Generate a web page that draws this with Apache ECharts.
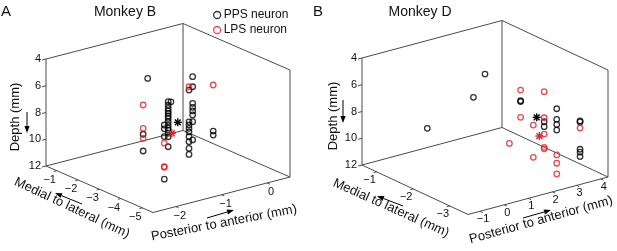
<!DOCTYPE html>
<html>
<head>
<meta charset="utf-8">
<script src="https://cdn.jsdelivr.net/npm/echarts@6/dist/echarts.min.js"></script>
<style>
  html, body { margin: 0; padding: 0; background: #fff; }
  #chart { width: 617px; height: 251px; }
</style>
</head>
<body>
<div id="chart"></div>
<script>
// recording sites: [posterior->anterior, medial->lateral, depth] (mm)
var ppsMonkeyB = [
  [-1.31, -2.5, 9.29], [-1.31, -2.5, 10.54], [-1.21, -2.5, 5.20],
  [-1.55, -4, 11.39], [-1.55, -4, 7.34], [-1.55, -4, 7.63], [-1.55, -4, 8.21],
  [-1.23, -3.5, 6.23], [-1.23, -3.5, 6.48], [-1.23, -3.5, 6.73], [-1.23, -3.5, 6.93],
  [-1.23, -3.5, 7.10], [-1.23, -3.5, 7.30], [-1.23, -3.5, 7.48], [-1.23, -3.5, 7.73],
  [-1.23, -3.5, 7.98], [-1.23, -3.5, 8.20], [-1.23, -3.5, 8.35], [-1.23, -3.5, 8.58],
  [-1.23, -3.5, 8.85], [-1.23, -3.5, 9.60], [-1.17, -3.5, 6.29],
  [-0.46, -3, 5.39], [-0.46, -3, 6.14], [-0.46, -3, 7.38], [-0.46, -3, 7.68],
  [-0.46, -3, 7.95], [-0.46, -3, 8.25], [-0.46, -3, 8.75], [-0.46, -3, 10.12],
  [-0.54, -3, 6.32], [-0.54, -3, 8.69], [-0.54, -3, 8.93], [-0.54, -3, 9.18],
  [-0.54, -3, 9.44], [-0.54, -3, 9.81], [-0.54, -3, 10.18], [-0.54, -3, 10.68],
  [-0.54, -3, 11.13],
  [-0.01, -3, 9.85], [-0.01, -3, 10.15]
];
var lpsMonkeyB = [
  [-1.31, -2.5, 7.10], [-1.31, -2.5, 8.85], [-1.31, -2.5, 9.59],
  [-1.55, -4, 8.70], [-1.55, -4, 10.45], [-1.55, -4, 10.50],
  [-0.54, -3, 6.07], [-0.01, -3, 6.41]
];
var centerMonkeyB = { pps: [-1.02, -3.5, 7.96], lps: [-1.15, -3.5, 8.66] };

var ppsMonkeyD = [
  [0.60, -1, 9.76], [2.51, -1, 8.37], [2.99, -1, 6.86],
  [2.95, -2, 7.56], [2.95, -2, 7.62],
  [3.17, -2.5, 8.60], [3.17, -2.5, 8.97],
  [3.69, -2.5, 7.88], [3.69, -2.5, 8.67], [3.69, -2.5, 9.05], [3.69, -2.5, 9.47],
  [3.90, -3, 8.25], [3.90, -3, 8.33], [3.90, -3, 10.37], [3.90, -3, 10.59], [3.90, -3, 10.92]
];
var lpsMonkeyD = [
  [1.73, -2.5, 9.52],
  [2.95, -2, 6.76], [2.95, -2, 8.80],
  [2.72, -2.5, 8.63], [2.72, -2.5, 11.04],
  [3.17, -2.5, 6.35], [3.17, -2.5, 8.30], [3.17, -2.5, 9.52], [3.17, -2.5, 10.51], [3.17, -2.5, 10.62],
  [3.01, -2.95, 10.43], [3.01, -2.95, 11.05], [3.01, -2.95, 11.85],
  [3.90, -3, 8.78]
];
var centerMonkeyD = { pps: [2.86, -2.5, 8.12], lps: [2.97, -2.5, 9.57] };

var depthTicks = [4, 6, 8, 10, 12];
var apTicksB = [-2, -1, 0];
var mlTicksB = [-1, -2, -3, -4, -5];
var apTicksD = [-1, 0, 1, 2, 3, 4];
var mlTicksD = [-1, -2, -3];

var FONT = '"Liberation Sans", Arial, sans-serif';
var RED = '#e31e24';

// screen layout of each 3D box (orthographic view)
var panels = [
  { xlim: [-2.5, 0.5], ylim: [-5.5, -0.5], zlim: [4, 12], o: [46, 166], ex: [137, -35.5], ey: [107, 46.5], h: 107,
    xTicks: apTicksB, yTicks: mlTicksB, xLabOff: [4, 9.5], yLabOff: [-7, 9] },
  { xlim: [-1.5, 4.3], ylim: [-3.5, -0.6], zlim: [4, 12], o: [362, 165], ex: [140, -37.5], ey: [106, 49.5], h: 107,
    xTicks: apTicksD, yTicks: mlTicksD, xLabOff: [3, 8], yLabOff: [-7, 8.5] }
];

function project(p, pt) {
  var u = (pt[0] - p.xlim[0]) / (p.xlim[1] - p.xlim[0]);
  var v = (p.ylim[1] - pt[1]) / (p.ylim[1] - p.ylim[0]);
  var w = (p.zlim[1] - pt[2]) / (p.zlim[1] - p.zlim[0]);
  return [p.o[0] + u * p.ex[0] + v * p.ey[0], p.o[1] + u * p.ex[1] + v * p.ey[1] - w * p.h];
}

function fmt(t) { return t < 0 ? '\u2212' + Math.abs(t) : String(t); }

function boxSeries(p) {
  return {
    type: 'custom', silent: true, z: 1, data: [0],
    renderItem: function (params, api) {
      var x0 = p.xlim[0], x1 = p.xlim[1], y0 = p.ylim[0], y1 = p.ylim[1];
      var zb = p.zlim[1], zt = p.zlim[0];
      function c(X, Y, Z) { return api.coord(project(p, [X, Y, Z])); }
      var edges = [
        [[x0, y1, zb], [x1, y1, zb]], [[x1, y1, zb], [x1, y0, zb]],
        [[x0, y1, zb], [x0, y0, zb]], [[x0, y0, zb], [x1, y0, zb]],
        [[x0, y1, zb], [x0, y1, zt]], [[x1, y1, zb], [x1, y1, zt]], [[x1, y0, zb], [x1, y0, zt]],
        [[x0, y1, zt], [x1, y1, zt]], [[x1, y1, zt], [x1, y0, zt]]
      ];
      var kids = [];
      function seg(a, b) {
        kids.push({ type: 'line', shape: { x1: a[0], y1: a[1], x2: b[0], y2: b[1] },
          style: { stroke: '#4a4a4a', lineWidth: 1 } });
      }
      function txt(x, y, s, align) {
        kids.push({ type: 'text', x: x, y: y, style: { text: s, fill: '#111', fontSize: 11, fontFamily: FONT,
          align: align || 'center', verticalAlign: 'middle' } });
      }
      edges.forEach(function (e) { seg(c.apply(null, e[0]), c.apply(null, e[1])); });
      var exL = Math.hypot(p.ex[0], p.ex[1]), eyL = Math.hypot(p.ey[0], p.ey[1]);
      var nx = -p.ex[0] / exL, ny = -p.ex[1] / exL;
      depthTicks.forEach(function (d) {
        var a = c(x0, y1, d);
        seg(a, [a[0] + 4 * nx, a[1] + 4 * ny]);
        txt(a[0] - 5, a[1], String(d), 'right');
      });
      p.yTicks.forEach(function (t) {
        var a = c(x0, t, zb);
        seg(a, [a[0] + 3 * nx, a[1] + 3 * ny]);
        txt(a[0] + p.yLabOff[0], a[1] + p.yLabOff[1], fmt(t));
      });
      p.xTicks.forEach(function (t) {
        var a = c(t, y0, zb);
        seg(a, [a[0] + 3 * p.ey[0] / eyL, a[1] + 3 * p.ey[1] / eyL]);
        txt(a[0] + p.xLabOff[0], a[1] + p.xLabOff[1], fmt(t));
      });
      return { type: 'group', children: kids };
    }
  };
}

function ringSeries(name, p, pts, color) {
  return {
    type: 'scatter', name: name, z: 3, symbol: 'circle', symbolSize: 5.5,
    itemStyle: { color: 'rgba(0,0,0,0)', borderColor: color, borderWidth: 1.3 },
    data: pts.map(function (pt) { return project(p, pt); })
  };
}

function starSeries(p, center) {
  return {
    type: 'custom', silent: true, z: 4,
    data: [center.pps.concat(0), center.lps.concat(1)],
    renderItem: function (params, api) {
      var q = api.coord(project(p, [api.value(0), api.value(1), api.value(2)]));
      var col = api.value(3) ? RED : '#000';
      var r = 4, k = 2.9, lines = [[0, -r, 0, r], [-r, 0, r, 0], [-k, -k, k, k], [-k, k, k, -k]];
      return { type: 'group', children: lines.map(function (l) {
        return { type: 'line', shape: { x1: q[0] + l[0], y1: q[1] + l[1], x2: q[0] + l[2], y2: q[1] + l[3] },
          style: { stroke: col, lineWidth: 1.4 } };
      }) };
    }
  };
}

function arrow(x1, y1, x2, y2) {
  var a = Math.atan2(y2 - y1, x2 - x1), L = 7, W = 2.6;
  var bx = x2 - L * Math.cos(a), by = y2 - L * Math.sin(a);
  return [
    { type: 'line', shape: { x1: x1, y1: y1, x2: bx, y2: by }, style: { stroke: '#000', lineWidth: 1 } },
    { type: 'polygon', shape: { points: [[x2, y2],
      [bx + W * Math.sin(a), by - W * Math.cos(a)], [bx - W * Math.sin(a), by + W * Math.cos(a)]] },
      style: { fill: '#000' } }
  ];
}

function label(x, y, s, size, rot) {
  return { type: 'text', x: x, y: y, rotation: rot || 0,
    style: { text: s, fill: '#111', fontSize: size, fontFamily: FONT, align: 'center', verticalAlign: 'middle' } };
}

var chart = echarts.init(document.getElementById('chart'));
var option = {
  animation: false,
  grid: { left: 0, top: 0, right: 0, bottom: 0 },
  xAxis: { type: 'value', min: 0, max: 617, show: false },
  yAxis: { type: 'value', min: 0, max: 251, inverse: true, show: false },
  legend: {
    left: 208, top: 4, orient: 'vertical', itemWidth: 7, itemHeight: 7, itemGap: 3,
    textStyle: { fontSize: 12, fontFamily: FONT, color: '#111', padding: [0, 0, 0, -2] },
    data: [
      { name: 'PPS neuron', icon: 'circle', itemStyle: { color: 'rgba(0,0,0,0)', borderColor: '#000', borderWidth: 1.3 } },
      { name: 'LPS neuron', icon: 'circle', itemStyle: { color: 'rgba(0,0,0,0)', borderColor: RED, borderWidth: 1.3 } }
    ]
  },
  graphic: [
    label(6, 12, 'A', 15), label(125, 12, 'Monkey B', 14),
    label(318, 12, 'B', 15), label(420, 12, 'Monkey D', 14),
    label(15, 117, 'Depth (mm)', 13, Math.PI / 2),
    label(72, 208, 'Medial to lateral (mm)', 13, -0.44),
    label(224, 223, 'Posterior to anterior (mm)', 13, 0.19),
    label(333, 116, 'Depth (mm)', 13, Math.PI / 2),
    label(391, 208, 'Medial to lateral (mm)', 13, -0.42),
    label(541, 220, 'Posterior to anterior (mm)', 13, 0.27)
  ].concat(arrow(27, 112, 27, 133), arrow(82, 204, 55, 193), arrow(207, 218, 234, 210),
           arrow(343, 100, 343, 123), arrow(403, 206, 377, 196), arrow(523, 218, 551, 210)),
  series: [
    boxSeries(panels[0]), boxSeries(panels[1]),
    ringSeries('PPS neuron', panels[0], ppsMonkeyB, '#000'),
    ringSeries('LPS neuron', panels[0], lpsMonkeyB, RED),
    ringSeries('PPS neuron', panels[1], ppsMonkeyD, '#000'),
    ringSeries('LPS neuron', panels[1], lpsMonkeyD, RED),
    starSeries(panels[0], centerMonkeyB), starSeries(panels[1], centerMonkeyD)
  ]
};
chart.setOption(option);
window.addEventListener('resize', function () { chart.resize(); });
</script>
</body>
</html>
